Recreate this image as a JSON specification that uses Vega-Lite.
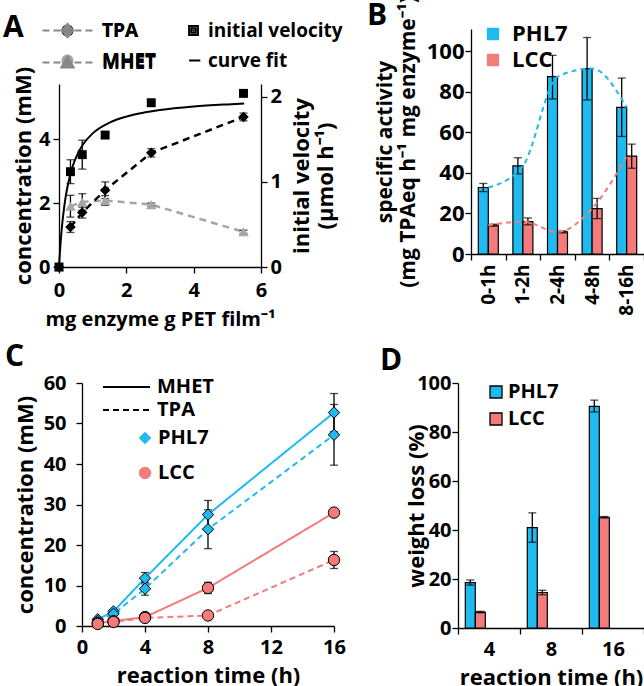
{
"$schema": "https://vega.github.io/schema/vega-lite/v6.json",
"padding": {"left": 3, "top": -5, "right": 0, "bottom": 0},
"background": "white",
"resolve": {"scale": {"color": "independent", "shape": "independent", "strokeDash": "independent"}, "legend": {"color": "independent", "shape": "independent", "strokeDash": "independent"}},
"datasets": {
"concA": [
{"x":0,"v":0,"lo":0,"hi":0,"series":"MHET"},
{"x":0.34,"v":1.9,"lo":1.56,"hi":2.24,"series":"MHET"},
{"x":0.69,"v":2.03,"lo":1.77,"hi":2.29,"series":"MHET"},
{"x":1.37,"v":2.08,"lo":1.93,"hi":2.23,"series":"MHET"},
{"x":2.74,"v":1.95,"lo":1.9,"hi":2.0,"series":"MHET"},
{"x":5.48,"v":1.1,"lo":1.05,"hi":1.15,"series":"MHET"},
{"x":0,"v":0,"lo":0,"hi":0,"series":"TPA"},
{"x":0.34,"v":1.25,"lo":1.08,"hi":1.42,"series":"TPA"},
{"x":0.69,"v":1.7,"lo":1.53,"hi":1.87,"series":"TPA"},
{"x":1.37,"v":2.4,"lo":2.14,"hi":2.66,"series":"TPA"},
{"x":2.74,"v":3.57,"lo":3.44,"hi":3.7,"series":"TPA"},
{"x":5.48,"v":4.69,"lo":4.57,"hi":4.81,"series":"TPA"}
],
"velA": [
{"x":0,"v":0,"lo":0,"hi":0,"series":"initial velocity"},
{"x":0.34,"v":1.12,"lo":0.98,"hi":1.26,"series":"initial velocity"},
{"x":0.69,"v":1.32,"lo":1.15,"hi":1.49,"series":"initial velocity"},
{"x":1.37,"v":1.55,"lo":1.55,"hi":1.55,"series":"initial velocity"},
{"x":2.74,"v":1.93,"lo":1.93,"hi":1.93,"series":"initial velocity"},
{"x":5.48,"v":2.04,"lo":2.04,"hi":2.04,"series":"initial velocity"}
],
"fitA": [
{"x":0,"v":0,"series":"curve fit"},
{"x":0.025,"v":0.162,"series":"curve fit"},
{"x":0.05,"v":0.3,"series":"curve fit"},
{"x":0.1,"v":0.522,"series":"curve fit"},
{"x":0.15,"v":0.693,"series":"curve fit"},
{"x":0.2,"v":0.83,"series":"curve fit"},
{"x":0.3,"v":1.032,"series":"curve fit"},
{"x":0.4,"v":1.176,"series":"curve fit"},
{"x":0.5,"v":1.283,"series":"curve fit"},
{"x":0.7,"v":1.433,"series":"curve fit"},
{"x":1,"v":1.57,"series":"curve fit"},
{"x":1.5,"v":1.696,"series":"curve fit"},
{"x":2,"v":1.767,"series":"curve fit"},
{"x":2.5,"v":1.812,"series":"curve fit"},
{"x":3,"v":1.844,"series":"curve fit"},
{"x":4,"v":1.885,"series":"curve fit"},
{"x":5,"v":1.91,"series":"curve fit"},
{"x":5.5,"v":1.92,"series":"curve fit"}
],
"actB": [
{"interval":"0-1h","enzyme":"PHL7","v":32.8,"lo":30.8,"hi":34.8},
{"interval":"0-1h","enzyme":"LCC","v":14.2,"lo":13.7,"hi":14.7},
{"interval":"1-2h","enzyme":"PHL7","v":43.5,"lo":39.5,"hi":47.5},
{"interval":"1-2h","enzyme":"LCC","v":16.0,"lo":14.4,"hi":17.8},
{"interval":"2-4h","enzyme":"PHL7","v":87.5,"lo":76.5,"hi":98},
{"interval":"2-4h","enzyme":"LCC","v":10.9,"lo":10.4,"hi":11.4},
{"interval":"4-8h","enzyme":"PHL7","v":91.5,"lo":76,"hi":106.8},
{"interval":"4-8h","enzyme":"LCC","v":22.4,"lo":17.5,"hi":27.4},
{"interval":"8-16h","enzyme":"PHL7","v":72.3,"lo":58,"hi":86.8},
{"interval":"8-16h","enzyme":"LCC","v":48.3,"lo":42.3,"hi":54.2}
],
"concC": [
{"t":1,"enzyme":"PHL7","product":"MHET","v":1.65,"lo":1.65,"hi":1.65},
{"t":2,"enzyme":"PHL7","product":"MHET","v":3.6,"lo":3.6,"hi":3.6},
{"t":4,"enzyme":"PHL7","product":"MHET","v":11.8,"lo":10.4,"hi":13.2},
{"t":8,"enzyme":"PHL7","product":"MHET","v":27.5,"lo":24,"hi":31},
{"t":16,"enzyme":"PHL7","product":"MHET","v":52.7,"lo":48,"hi":57.4},
{"t":1,"enzyme":"PHL7","product":"TPA","v":1.2,"lo":1.2,"hi":1.2},
{"t":2,"enzyme":"PHL7","product":"TPA","v":3.0,"lo":3.0,"hi":3.0},
{"t":4,"enzyme":"PHL7","product":"TPA","v":9.2,"lo":7.6,"hi":10.8},
{"t":8,"enzyme":"PHL7","product":"TPA","v":23.9,"lo":19.1,"hi":28.7},
{"t":16,"enzyme":"PHL7","product":"TPA","v":47.2,"lo":39.7,"hi":54.7},
{"t":1,"enzyme":"LCC","product":"MHET","v":0.7,"lo":0.7,"hi":0.7},
{"t":2,"enzyme":"LCC","product":"MHET","v":1.2,"lo":1.2,"hi":1.2},
{"t":4,"enzyme":"LCC","product":"MHET","v":2.2,"lo":2.2,"hi":2.2},
{"t":8,"enzyme":"LCC","product":"MHET","v":9.4,"lo":8,"hi":10.8},
{"t":16,"enzyme":"LCC","product":"MHET","v":28,"lo":27.5,"hi":28.5},
{"t":1,"enzyme":"LCC","product":"TPA","v":0.5,"lo":0.5,"hi":0.5},
{"t":2,"enzyme":"LCC","product":"TPA","v":1.0,"lo":1.0,"hi":1.0},
{"t":4,"enzyme":"LCC","product":"TPA","v":2.0,"lo":2.0,"hi":2.0},
{"t":8,"enzyme":"LCC","product":"TPA","v":2.6,"lo":2.6,"hi":2.6},
{"t":16,"enzyme":"LCC","product":"TPA","v":16.3,"lo":14.2,"hi":18.4}
],
"wD": [
{"time":"4","enzyme":"PHL7","v":18.5,"lo":17.5,"hi":19.6},
{"time":"4","enzyme":"LCC","v":6.5,"lo":6.2,"hi":6.8},
{"time":"8","enzyme":"PHL7","v":41,"lo":35,"hi":47},
{"time":"8","enzyme":"LCC","v":14.5,"lo":13.6,"hi":15.4},
{"time":"16","enzyme":"PHL7","v":90.5,"lo":88.2,"hi":93},
{"time":"16","enzyme":"LCC","v":45.2,"lo":44.9,"hi":45.5}
],
"empty": []
},
"vconcat": [
{"hconcat": [
{"vconcat": [
{"width": 1, "height": 1, "data": {"name": "empty"}, "mark": "point"},
{
"width": 202, "height": 183,
"title": {"text": "A", "frame": "group", "dx": -56, "dy": 24},
"layer": [
{"layer": [
{"data": {"name": "concA"},
 "mark": {"type": "point", "filled": false, "opacity": 0, "size": 10},
 "encoding": {
  "x": {"field": "x", "type": "quantitative", "scale": {"domain": [0,6], "nice": false}, "axis": {"values": [0,1,2,3,4,5,6], "title": "mg enzyme g PET film⁻¹", "titleFontSize": 20, "labelPadding": 7, "titlePadding": 9}},
  "y": {"field": "v", "type": "quantitative", "scale": {"domain": [0,5.72], "nice": false}, "axis": {"values": [0,1,2,3,4,5], "title": "concentration (mM)", "titlePadding": 3}},
  "shape": {"field": "series", "type": "nominal", "scale": {"domain": ["TPA","MHET"], "range": ["M-5,0H-3.6M-2.8,0H-1.4M1.4,0H2.8M3.6,0H5M0,-1.3L1.1,0L0,1.3L-1.1,0ZM0,-0.6L0.5,0L0,0.6L-0.5,0ZM-0.15,0H0.15", "M-5,0H-3.6M-2.8,0H-1.4M1.4,0H2.8M3.6,0H5M0,-1.2L1.2,1L-1.2,1ZM0,-0.4L0.55,0.6L-0.55,0.6ZM-0.15,0.3H0.15"]},
    "legend": {"orient": "none", "legendX": -1, "legendY": -63, "title": null, "symbolSize": 100, "symbolOpacity": 1, "symbolStrokeWidth": 2.2, "labelOffset": 25, "rowPadding": 10, "padding": 0, "labelFontSize": 19}},
  "color": {"field": "series", "type": "nominal", "scale": {"domain": ["TPA","MHET"], "range": ["#000000","#A6A6A6"]},
    "legend": {"orient": "none", "legendX": -1, "legendY": -63, "title": null, "symbolSize": 100, "symbolOpacity": 1, "symbolStrokeWidth": 2.2, "labelOffset": 25, "rowPadding": 10, "padding": 0, "labelFontSize": 19}}
 }},
{"data": {"name": "concA"}, "transform": [{"filter": "datum.x > 0"}],
 "mark": {"type": "line", "strokeDash": [7,5], "strokeWidth": 2.5},
 "encoding": {
  "x": {"field": "x", "type": "quantitative"},
  "y": {"field": "v", "type": "quantitative"},
  "color": {"field": "series", "type": "nominal"}
 }},
{"data": {"name": "concA"}, "transform": [{"filter": "datum.hi > datum.lo"}],
 "mark": {"type": "rule", "color": "#000", "strokeWidth": 1.3},
 "encoding": {"x": {"field": "x", "type": "quantitative"}, "y": {"field": "lo", "type": "quantitative"}, "y2": {"field": "hi"}}},
{"data": {"name": "concA"}, "transform": [{"filter": "datum.hi > datum.lo"}],
 "mark": {"type": "tick", "orient": "horizontal", "color": "#000", "size": 8, "thickness": 1.3},
 "encoding": {"x": {"field": "x", "type": "quantitative"}, "y": {"field": "hi", "type": "quantitative"}}},
{"data": {"name": "concA"}, "transform": [{"filter": "datum.hi > datum.lo"}],
 "mark": {"type": "tick", "orient": "horizontal", "color": "#000", "size": 8, "thickness": 1.3},
 "encoding": {"x": {"field": "x", "type": "quantitative"}, "y": {"field": "lo", "type": "quantitative"}}},
{"data": {"name": "concA"}, "transform": [{"filter": "datum.series === 'MHET'"}],
 "mark": {"type": "point", "shape": "triangle-up", "filled": true, "size": 110, "opacity": 1},
 "encoding": {
  "x": {"field": "x", "type": "quantitative"},
  "y": {"field": "v", "type": "quantitative"},
  "color": {"field": "series", "type": "nominal"}
 }},
{"data": {"name": "concA"}, "transform": [{"filter": "datum.series === 'TPA'"}],
 "mark": {"type": "point", "shape": "diamond", "filled": true, "size": 110, "opacity": 1},
 "encoding": {
  "x": {"field": "x", "type": "quantitative"},
  "y": {"field": "v", "type": "quantitative"},
  "color": {"field": "series", "type": "nominal"}
 }}
]},
{"layer": [
{"data": {"name": "fitA"},
 "mark": {"type": "line", "strokeWidth": 2, "interpolate": "monotone", "color": "#000"},
 "encoding": {
  "x": {"field": "x", "type": "quantitative"},
  "y": {"field": "v", "type": "quantitative", "scale": {"domain": [0,2.15], "nice": false}, "axis": {"orient": "right", "values": [0,1,2], "format": ".0f", "title": ["initial velocity","(µmol h⁻¹)"], "titleAngle": 270, "titleBaseline": "top", "titlePadding": -14}}
 }},
{"data": {"name": "velA"}, "transform": [{"filter": "datum.hi > datum.lo"}],
 "mark": {"type": "rule", "color": "#000", "strokeWidth": 1.3},
 "encoding": {"x": {"field": "x", "type": "quantitative"}, "y": {"field": "lo", "type": "quantitative"}, "y2": {"field": "hi"}}},
{"data": {"name": "velA"}, "transform": [{"filter": "datum.hi > datum.lo"}],
 "mark": {"type": "tick", "orient": "horizontal", "color": "#000", "size": 8, "thickness": 1.3},
 "encoding": {"x": {"field": "x", "type": "quantitative"}, "y": {"field": "hi", "type": "quantitative"}}},
{"data": {"name": "velA"}, "transform": [{"filter": "datum.hi > datum.lo"}],
 "mark": {"type": "tick", "orient": "horizontal", "color": "#000", "size": 8, "thickness": 1.3},
 "encoding": {"x": {"field": "x", "type": "quantitative"}, "y": {"field": "lo", "type": "quantitative"}}},
{"data": {"name": "velA"},
 "mark": {"type": "point", "filled": false, "opacity": 0, "size": 10, "color": "#000"},
 "encoding": {
  "x": {"field": "x", "type": "quantitative"},
  "y": {"field": "v", "type": "quantitative"},
  "shape": {"field": "series", "type": "nominal", "scale": {"domain": ["initial velocity","curve fit"], "range": ["M-1.1,-1.1H1.1V1.1H-1.1ZM-0.55,-0.55H0.55V0.55H-0.55ZM-0.2,0H0.2M0,-0.2V0.2", "M-1.1,0H1.7"]},
    "legend": {"orient": "none", "legendX": 125, "legendY": -63, "title": null, "symbolSize": 64, "symbolOpacity": 1, "symbolStrokeWidth": 2, "symbolStrokeColor": "#000", "labelOffset": 5, "rowPadding": 10, "padding": 0, "labelFontSize": 19}}
 }},
{"data": {"name": "velA"},
 "mark": {"type": "point", "shape": "square", "filled": true, "size": 80, "opacity": 1, "color": "#000"},
 "encoding": {
  "x": {"field": "x", "type": "quantitative"},
  "y": {"field": "v", "type": "quantitative"}
 }}
]}
],
"resolve": {"scale": {"y": "independent", "shape": "independent"}, "legend": {"shape": "independent"}}
}
], "spacing": -17,
"resolve": {"scale": {"color": "independent", "shape": "independent", "strokeDash": "independent"}, "legend": {"color": "independent", "shape": "independent", "strokeDash": "independent"}}},
{
"width": 173, "height": 225,
"title": {"text": "B", "frame": "group", "dx": -104, "dy": 37},
"data": {"name": "actB"},
"layer": [
{"mark": {"type": "bar", "stroke": "#000", "strokeWidth": 1.2},
 "encoding": {
  "x": {"field": "interval", "type": "nominal", "sort": null, "scale": {"paddingInner": 0, "paddingOuter": 0}, "axis": {"labelAngle": 270, "tickBand": "extent", "title": null, "labelPadding": 4, "labelFontSize": 19}},
  "xOffset": {"field": "enzyme", "type": "nominal", "sort": ["PHL7","LCC"], "scale": {"paddingInner": 0, "paddingOuter": 0.73}},
  "y": {"field": "v", "type": "quantitative", "scale": {"domain": [0,111], "nice": false}, "axis": {"values": [0,20,40,60,80,100], "labelFontSize": 22, "labelPadding": 1, "titlePadding": 8, "titleFontSize": 21, "title": ["specific activity","(mg TPAeq h⁻¹ mg enzyme⁻¹)"]}},
  "color": {"field": "enzyme", "type": "nominal", "scale": {"domain": ["PHL7","LCC"], "range": ["#1FBAEF","#F47B7B"]},
    "legend": {"orient": "none", "legendX": 11, "legendY": -6, "title": null, "symbolType": "square", "symbolSize": 121, "symbolStrokeColor": "#000", "symbolStrokeWidth": 1.3, "labelOffset": 8, "rowPadding": 4, "padding": 0, "labelFontSize": 22}}
 }},
{"mark": {"type": "rule", "color": "#000", "strokeWidth": 1.3},
 "encoding": {
  "x": {"field": "interval", "type": "nominal", "sort": null},
  "xOffset": {"field": "enzyme", "type": "nominal", "sort": ["PHL7","LCC"]},
  "y": {"field": "lo", "type": "quantitative"}, "y2": {"field": "hi"}}},
{"mark": {"type": "tick", "orient": "horizontal", "color": "#000", "size": 8, "thickness": 1.3},
 "encoding": {
  "x": {"field": "interval", "type": "nominal", "sort": null},
  "xOffset": {"field": "enzyme", "type": "nominal", "sort": ["PHL7","LCC"]},
  "y": {"field": "hi", "type": "quantitative"}}},
{"mark": {"type": "tick", "orient": "horizontal", "color": "#000", "size": 8, "thickness": 1.3},
 "encoding": {
  "x": {"field": "interval", "type": "nominal", "sort": null},
  "xOffset": {"field": "enzyme", "type": "nominal", "sort": ["PHL7","LCC"]},
  "y": {"field": "lo", "type": "quantitative"}}},
{"mark": {"type": "line", "strokeDash": [5,4], "strokeWidth": 2, "interpolate": "monotone"},
 "encoding": {
  "x": {"field": "interval", "type": "nominal", "sort": null},
  "y": {"field": "v", "type": "quantitative"},
  "color": {"field": "enzyme", "type": "nominal"}}}
]
}
], "spacing": 24,
"resolve": {"scale": {"color": "independent", "shape": "independent", "strokeDash": "independent"}, "legend": {"color": "independent", "shape": "independent", "strokeDash": "independent"}}},
{"hconcat": [
{"hconcat": [
{"width": 1, "height": 1, "data": {"name": "empty"}, "mark": "point"},
{
"width": 252, "height": 243,
"title": {"text": "C", "frame": "group", "dx": -77, "dy": 1},
"data": {"name": "concC"},
"layer": [
{"mark": {"type": "line", "strokeWidth": 2},
 "encoding": {
  "x": {"field": "t", "type": "quantitative", "scale": {"domain": [0,16], "nice": false}, "axis": {"values": [0,4,8,12,16], "title": "reaction time (h)", "labelPadding": 5}},
  "y": {"field": "v", "type": "quantitative", "scale": {"domain": [0,60], "nice": false}, "axis": {"values": [0,10,20,30,40,50,60], "title": "concentration (mM)", "labelPadding": 10, "titlePadding": 6}},
  "color": {"field": "enzyme", "type": "nominal", "scale": {"domain": ["PHL7","LCC"], "range": ["#1FBAEF","#F47B7B"]}},
  "strokeDash": {"field": "product", "type": "nominal", "scale": {"domain": ["MHET","TPA"], "range": [[1,0],[6,4]]},
    "legend": {"orient": "none", "legendX": 54, "legendY": -6, "title": null, "symbolType": "M-8.6,0H0.8", "symbolSize": 100, "symbolStrokeColor": "#000", "symbolStrokeWidth": 2, "labelOffset": 1, "rowPadding": 3, "padding": 0, "labelFontSize": 20}}
 }},
{"transform": [{"filter": "datum.hi > datum.lo"}],
 "mark": {"type": "rule", "color": "#000", "strokeWidth": 1.3},
 "encoding": {"x": {"field": "t", "type": "quantitative"}, "y": {"field": "lo", "type": "quantitative"}, "y2": {"field": "hi"}}},
{"transform": [{"filter": "datum.hi > datum.lo"}],
 "mark": {"type": "tick", "orient": "horizontal", "color": "#000", "size": 8, "thickness": 1.3},
 "encoding": {"x": {"field": "t", "type": "quantitative"}, "y": {"field": "hi", "type": "quantitative"}}},
{"transform": [{"filter": "datum.hi > datum.lo"}],
 "mark": {"type": "tick", "orient": "horizontal", "color": "#000", "size": 8, "thickness": 1.3},
 "encoding": {"x": {"field": "t", "type": "quantitative"}, "y": {"field": "lo", "type": "quantitative"}}},
{"mark": {"type": "point", "filled": true, "size": 130, "stroke": "#000", "strokeWidth": 1, "opacity": 1},
 "encoding": {
  "x": {"field": "t", "type": "quantitative"},
  "y": {"field": "v", "type": "quantitative"},
  "shape": {"field": "enzyme", "type": "nominal", "scale": {"domain": ["PHL7","LCC"], "range": ["diamond","circle"]},
    "legend": {"orient": "none", "legendX": 53, "legendY": 45, "title": null, "symbolSize": 130, "symbolStrokeColor": "#000", "symbolStrokeWidth": 1, "labelOffset": 3, "rowPadding": 15, "padding": 0, "labelFontSize": 20}},
  "color": {"field": "enzyme", "type": "nominal",
    "legend": {"orient": "none", "legendX": 53, "legendY": 45, "title": null, "symbolSize": 130, "symbolStrokeColor": "#000", "symbolStrokeWidth": 1, "labelOffset": 3, "rowPadding": 15, "padding": 0, "labelFontSize": 20}}
 }}
]
}
], "spacing": -55,
"resolve": {"scale": {"color": "independent", "shape": "independent", "strokeDash": "independent"}, "legend": {"color": "independent", "shape": "independent", "strokeDash": "independent"}}},
{
"width": 186, "height": 245,
"title": {"text": "D", "frame": "group", "dx": -78, "dy": 5},
"data": {"name": "wD"},
"layer": [
{"mark": {"type": "bar", "stroke": "#000", "strokeWidth": 1.2},
 "encoding": {
  "x": {"field": "time", "type": "nominal", "sort": null, "scale": {"paddingInner": 0, "paddingOuter": 0}, "axis": {"labelAngle": 0, "tickBand": "extent", "title": "reaction time (h)", "labelPadding": 5}},
  "xOffset": {"field": "enzyme", "type": "nominal", "sort": ["PHL7","LCC"], "scale": {"paddingInner": 0, "paddingOuter": 0.72}},
  "y": {"field": "v", "type": "quantitative", "scale": {"domain": [0,100], "nice": false}, "axis": {"values": [0,20,40,60,80,100], "title": "weight loss (%)", "labelPadding": 1, "titlePadding": -12}},
  "color": {"field": "enzyme", "type": "nominal", "scale": {"domain": ["PHL7","LCC"], "range": ["#1FBAEF","#F47B7B"]},
    "legend": {"orient": "none", "legendX": 28, "legendY": -1, "title": null, "symbolType": "square", "symbolSize": 144, "symbolStrokeColor": "#000", "symbolStrokeWidth": 1.3, "labelOffset": 2, "rowPadding": 7, "padding": 0, "labelFontSize": 20}}
 }},
{"mark": {"type": "rule", "color": "#000", "strokeWidth": 1.3},
 "encoding": {
  "x": {"field": "time", "type": "nominal", "sort": null},
  "xOffset": {"field": "enzyme", "type": "nominal", "sort": ["PHL7","LCC"]},
  "y": {"field": "lo", "type": "quantitative"}, "y2": {"field": "hi"}}},
{"mark": {"type": "tick", "orient": "horizontal", "color": "#000", "size": 8, "thickness": 1.3},
 "encoding": {
  "x": {"field": "time", "type": "nominal", "sort": null},
  "xOffset": {"field": "enzyme", "type": "nominal", "sort": ["PHL7","LCC"]},
  "y": {"field": "hi", "type": "quantitative"}}},
{"mark": {"type": "tick", "orient": "horizontal", "color": "#000", "size": 8, "thickness": 1.3},
 "encoding": {
  "x": {"field": "time", "type": "nominal", "sort": null},
  "xOffset": {"field": "enzyme", "type": "nominal", "sort": ["PHL7","LCC"]},
  "y": {"field": "lo", "type": "quantitative"}}}
]
}
], "spacing": 34,
"resolve": {"scale": {"color": "independent", "shape": "independent", "strokeDash": "independent"}, "legend": {"color": "independent", "shape": "independent", "strokeDash": "independent"}}}
],
"spacing": 13,
"config": {
"font": "Open Sans",
"view": {"stroke": null},
"axis": {"labelFont": "Open Sans", "labelFontSize": 20, "labelFontWeight": "bold", "labelColor": "#000", "titleFont": "Open Sans", "titleFontSize": 22, "titleFontWeight": "bold", "titleColor": "#000", "domainColor": "#000", "tickColor": "#000", "domainWidth": 1.3, "tickWidth": 1.3, "tickSize": 6, "grid": false, "labelPadding": 3, "labelFlush": false, "labelOverlap": false, "titlePadding": 8},
"legend": {"labelFont": "Open Sans", "labelFontSize": 20, "labelFontWeight": "bold", "labelColor": "#000"},
"title": {"font": "Open Sans", "fontSize": 30, "fontWeight": "bold", "anchor": "start", "color": "#000", "offset": 2}
}
}
